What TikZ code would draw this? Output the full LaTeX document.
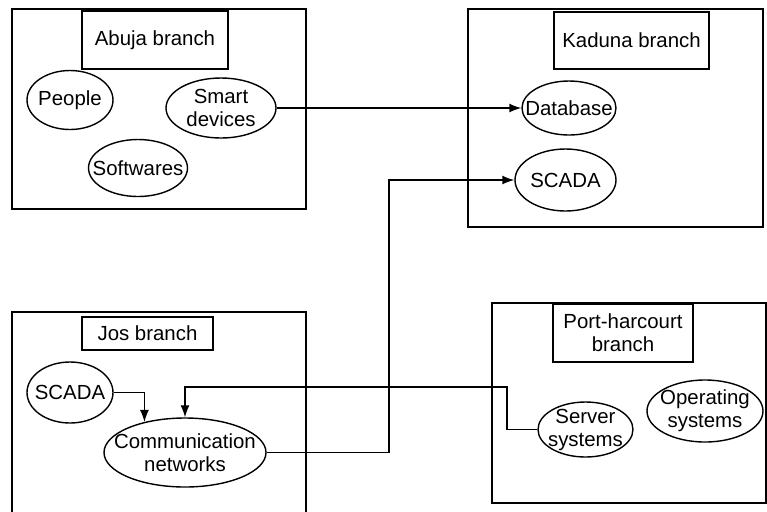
\documentclass[tikz,border=0pt]{standalone}
\usepackage{fontspec}
\setmainfont{Liberation Sans}
\usetikzlibrary{arrows.meta,shapes.geometric}

\begin{document}
\begin{tikzpicture}[x=0.5pt,y=-0.5pt,line width=0.7pt,>={Latex[length=6pt,width=4.5pt]},
    font=\fontsize{10.2}{11.5}\selectfont,
    branch/.style={draw,inner sep=0pt},
    title/.style={draw,inner sep=0pt,align=center},
    blob/.style={draw,ellipse,inner sep=0pt},
    link/.style={->}]

    \clip (0,0) rectangle (767,511);

    % Abuja branch
    \node[branch,minimum width=147pt,minimum height=100pt] (abuja) at (159,109) {};
    \node[title,minimum width=73pt,minimum height=29pt] (abujat) at (155,40) {Abuja branch};
    \node[blob,minimum width=43pt,minimum height=29.5pt,label=center:People] (people) at (70,100) {};
    \node[blob,minimum width=55pt,minimum height=30pt,
          label={[align=center]center:Smart\\devices}] (smart) at (221,108) {};
    \node[blob,minimum width=49.5pt,minimum height=28.5pt,label=center:Softwares] (soft) at (138,168) {};

    % Kaduna branch
    \node[branch,minimum width=147.5pt,minimum height=109pt] (kaduna) at (615.5,118) {};
    \node[title,minimum width=77.5pt,minimum height=28.5pt] (kadunat) at (631.5,40.5) {Kaduna branch};
    \node[blob,minimum width=47pt,minimum height=27pt,label=center:Database] (db) at (569,108) {};
    \node[blob,minimum width=50.5pt,minimum height=31pt,label=center:SCADA] (kscada) at (565.5,180) {};

    % Jos branch
    \node[branch,minimum width=147pt,minimum height=124pt] (jos) at (159,436) {};
    \node[title,minimum width=65.5pt,minimum height=16.5pt] (jost) at (147.5,333.5) {Jos branch};
    \node[blob,minimum width=43pt,minimum height=30.5pt,label=center:SCADA] (jscada) at (70,392.5) {};
    \node[blob,minimum width=81pt,minimum height=34.5pt,
          label={[align=center]center:Communication\\networks}] (comm) at (185,452.5) {};

    % Port-harcourt branch
    \node[branch,minimum width=137pt,minimum height=100pt] (port) at (629,403) {};
    \node[title,minimum width=70pt,minimum height=29pt] (portt) at (623,333) {Port-harcourt\\branch};
    \node[blob,minimum width=47.5pt,minimum height=27.5pt,
          label={[align=center]center:Server\\systems}] (server) at (585.5,429.5) {};
    \node[blob,minimum width=58pt,minimum height=31pt,
          label={[align=center]center:Operating\\systems}] (opsys) at (705,411) {};

    \coordinate (rise) at (389,180);
    \coordinate (back) at (507,387);

    \draw[link] (smart.east) -- (db.west);
    \draw[link] (jscada.east) -| (comm.143);
    \draw[link] (comm.east) -| (rise) -- (kscada.west);
    \draw[link] (server.west) -| (back) -| (comm.north);

\end{tikzpicture}
\end{document}
